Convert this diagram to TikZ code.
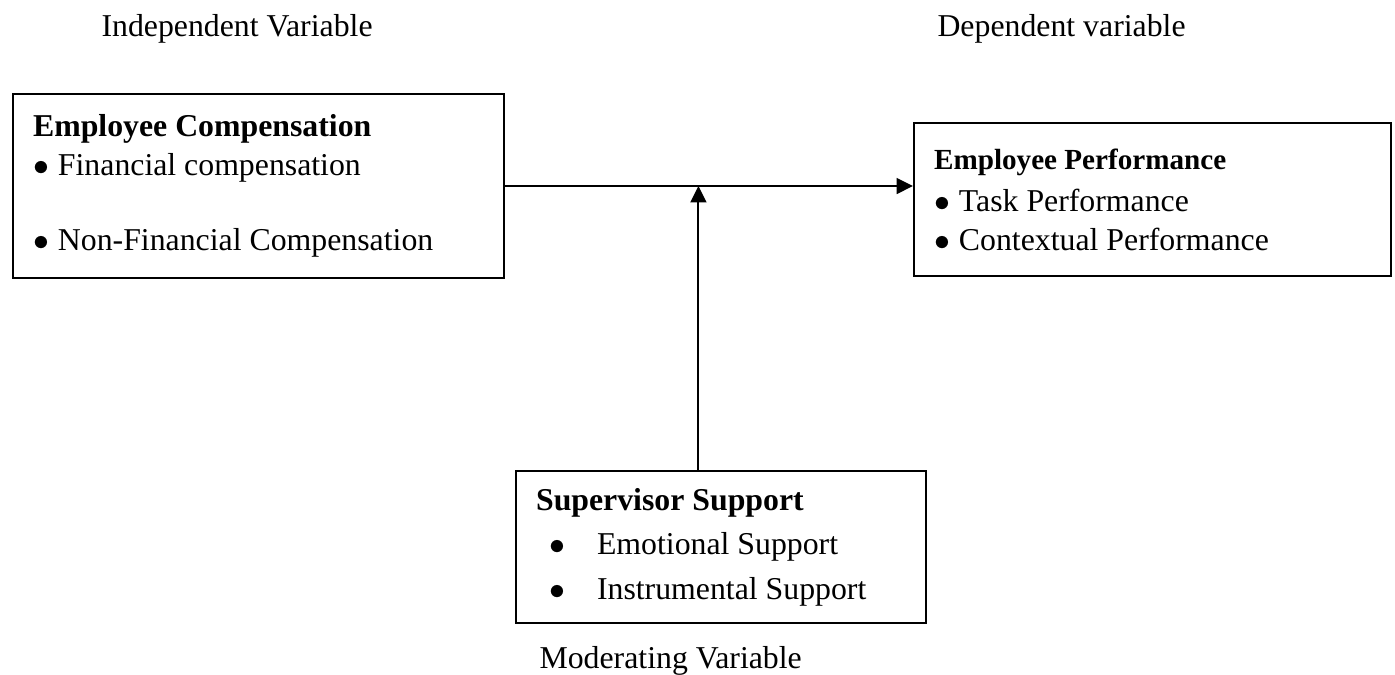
\documentclass[tikz,border=0pt]{standalone}
\usepackage{fontspec}
\setmainfont{Liberation Serif}
\usepackage{xcolor}
\usetikzlibrary{arrows.meta,calc}

\newcommand{\blt}[1]{\makebox[#1][l]{$\bullet$}}

\begin{document}
\begin{tikzpicture}[x=0.3774pt,y=-0.3774pt,
    varbox/.style={draw,line width=0.8pt,anchor=north west,align=left,
                   inner xsep=7.55pt,inner ysep=0pt,
                   font=\fontsize{12}{14.7}\selectfont,
                   execute at begin node={\spaceskip=0pt\xspaceskip=0pt}},
    varlabel/.style={anchor=base west,inner sep=0pt,
                     font=\fontsize{12}{14.7}\selectfont},
    link/.style={line width=0.75pt,-{Triangle[length=6.2pt,width=6pt]}}]

  % ------- page frame -------
  \useasboundingbox (0,0) rectangle (1395,675);

  % ------- variable labels -------
  \node[varlabel] (indlab) at (101,36)  {Independent Variable};
  \node[varlabel] (deplab) at (937,36)  {Dependent variable};
  \node[varlabel] (modlab) at (539,668) {Moderating Variable};

  % ------- independent variable -------
  \node[varbox,text width=170.2pt,minimum height=69.4pt] (comp) at (12,93)
      {\textbf{Employee Compensation}\\
       \blt{9.4pt}Financial compensation\\[13.6pt]
       \blt{9.4pt}Non-Financial Compensation};

  % ------- dependent variable -------
  \node[varbox,text width=164.9pt,minimum height=57.7pt] (perf) at (913,122)
      {\textbf{\fontsize{11}{14.7}\selectfont Employee Performance}\\[1.2pt]
       \blt{9.4pt}Task Performance\\
       \blt{9.4pt}Contextual Performance};

  % ------- moderating variable -------
  \node[varbox,text width=139.6pt,minimum height=57.4pt,
        font=\fontsize{12}{16.8}\selectfont] (supp) at (515,470)
      {\textbf{Supervisor Support}\\
       \hspace*{4.9pt}\blt{18.1pt}Emotional Support\\
       \hspace*{4.9pt}\blt{18.1pt}Instrumental Support};

  % ------- arrows -------
  \coordinate (meet) at ($(comp.east)!0.474!(comp.east -| perf.west)$);
  \draw[link] (comp.east) -- (comp.east -| perf.west);
  \draw[link] (meet |- supp.north) -- (meet);
\end{tikzpicture}
\end{document}
